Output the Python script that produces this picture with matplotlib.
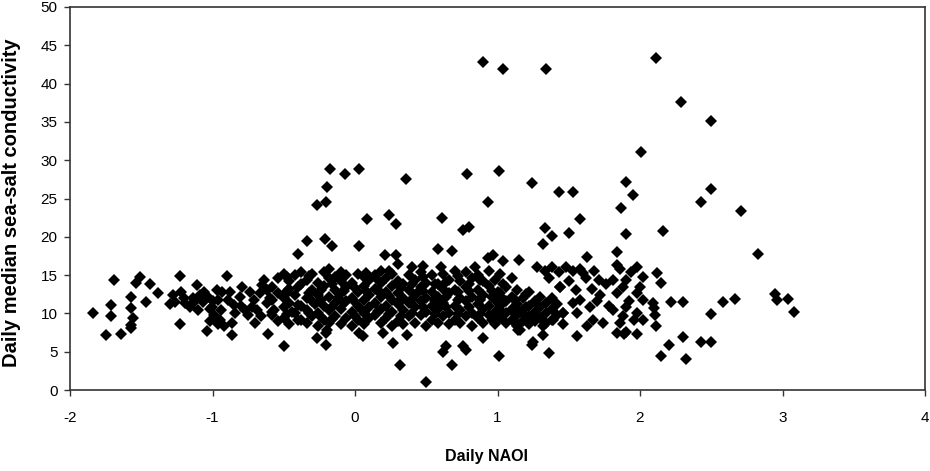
import matplotlib
matplotlib.use("Agg")
import matplotlib.pyplot as plt

# ---- data (Daily NAOI vs daily median sea-salt conductivity) ----
# sparse left part (NAOI < -0.55)
naoi_left = [-1.84, -1.75, -1.64, -1.71, -1.71, -1.69, -1.57, -1.57, -1.56, -1.57,
             -1.57, -1.54, -1.51, -1.47, -1.44, -1.38, -1.23, -1.23, -1.11, -1.04,
             -0.90, -0.865, -0.79, -0.61, -0.496, -1.275, -1.26, -1.19, -1.12, -1.09,
             -1.065, -1.10, -1.03, -1.006, -0.99, -0.97, -0.95, -0.92, -0.865, -0.89,
             -0.85, -0.81, -0.77, -0.75, -0.71, -0.69, -0.70, -0.67, -0.655, -0.62,
             -0.585, -0.57, -0.64, -1.30, -1.22, -1.16, -1.14, -1.02, -0.96, -0.93,
             -1.20, -1.14, -1.06, -1.00, -0.94, -0.88, -0.84, -0.80, -0.74, -0.72,
             -0.66, -0.62, -0.60, -1.02, -0.96]
cond_left = [10.1, 7.2, 7.3, 11.1, 9.6, 14.3, 12.2, 10.7, 9.4, 8.5,
             8.1, 14.0, 14.7, 11.5, 13.8, 12.6, 14.9, 8.6, 13.7, 7.7,
             14.9, 7.2, 13.4, 7.3, 5.8, 12.4, 11.5, 11.3, 11.7, 12.4,
             11.5, 10.4, 12.2, 10.9, 9.8, 13.1, 9.1, 8.3, 8.7, 11.7,
             11.1, 12.2, 10.4, 9.8, 11.7, 10.4, 8.7, 12.6, 13.7, 11.3,
             9.8, 10.4, 14.4, 11.2, 12.8, 10.9, 12.0, 10.6, 11.8, 12.8,
             12.0, 11.4, 12.8, 11.6, 10.4, 12.8, 10.0, 11.0, 12.8, 10.9,
             9.6, 13.0, 12.0, 9.0, 8.6]

# dense central band
naoi_core = [-0.58, -0.58, -0.58, -0.54, -0.54, -0.54, -0.50, -0.50, -0.50, -0.50,
             -0.46, -0.46, -0.46, -0.46, -0.42, -0.42, -0.42, -0.38, -0.38, -0.38,
             -0.38, -0.34, -0.34, -0.34, -0.34, -0.30, -0.30, -0.30, -0.30, -0.26,
             -0.26, -0.26, -0.26, -0.22, -0.22, -0.22, -0.22, -0.18, -0.18, -0.18,
             -0.18, -0.18, -0.14, -0.14, -0.14, -0.14, -0.10, -0.10, -0.10, -0.10,
             -0.10, -0.06, -0.06, -0.06, -0.06, -0.02, -0.02, -0.02, -0.02, 0.02,
             0.02, 0.02, 0.02, 0.06, 0.06, 0.06, 0.06, 0.06, 0.10, 0.10,
             0.10, 0.10, 0.14, 0.14, 0.14, 0.14, 0.18, 0.18, 0.18, 0.18,
             0.18, 0.22, 0.22, 0.22, 0.22, 0.26, 0.26, 0.26, 0.26, 0.26,
             0.30, 0.30, 0.30, 0.30, 0.34, 0.34, 0.34, 0.34, 0.38, 0.38,
             0.38, 0.38, 0.42, 0.42, 0.42, 0.42, 0.46, 0.46, 0.46, 0.46,
             0.50, 0.50, 0.50, 0.50, 0.54, 0.54, 0.54, 0.54, 0.58, 0.58,
             0.58, 0.58, 0.62, 0.62, 0.62, 0.62, 0.66, 0.66, 0.66, 0.66,
             0.70, 0.70, 0.70, 0.70, 0.74, 0.74, 0.74, 0.74, 0.78, 0.78,
             0.78, 0.78, 0.82, 0.82, 0.82, 0.82, 0.86, 0.86, 0.86, 0.86,
             0.90, 0.90, 0.90, 0.90, 0.94, 0.94, 0.94, 0.94, 0.98, 0.98,
             0.98, 0.98, 1.02, 1.02, 1.02, 1.02, 1.06, 1.06, 1.06, 1.06,
             1.10, 1.10, 1.10, 1.10, 1.14, 1.14, 1.14, 1.14, 1.18, 1.18,
             1.18, 1.22, 1.22, 1.22, 1.22, 1.26, 1.26, 1.26, 1.30, 1.30,
             1.30, 1.34, 1.34, 1.34, 1.38, 1.38, 1.38, 1.42, 1.42, 1.46,
             1.46, 1.28, 1.33, 1.38, 1.43, 1.48, 1.53, 1.58, 1.36, 1.50,
             1.44, 1.55, -0.48, -0.44, -0.28, -0.12, 0.04, 0.16, 0.32, 0.44,
             0.56, 0.72, 0.88, 1.00, 1.12, 0.40, 0.48, 0.60, 0.84]
cond_core = [10.2, 11.8, 13.5, 9.0, 12.6, 14.6, 10.8, 12.0, 15.2, 9.4,
             11.4, 13.2, 14.2, 8.6, 10.0, 12.4, 15.0, 9.2, 11.0, 13.8,
             15.4, 10.4, 12.0, 14.4, 8.8, 11.6, 13.0, 15.2, 9.6, 10.0,
             12.4, 14.0, 8.4, 11.0, 13.6, 15.4, 9.2, 10.4, 12.2, 14.6,
             8.8, 15.8, 9.6, 11.4, 13.0, 14.8, 10.6, 12.6, 14.2, 8.6,
             15.4, 9.4, 11.6, 13.4, 15.0, 10.2, 12.0, 14.0, 8.4, 11.0,
             12.8, 15.2, 9.2, 10.0, 11.8, 13.6, 14.8, 8.6, 10.8, 12.4,
             14.4, 9.4, 9.8, 11.4, 13.2, 15.0, 10.6, 12.2, 14.0, 8.8,
             15.6, 9.4, 11.0, 12.8, 14.6, 10.2, 11.8, 13.6, 15.2, 8.4,
             9.0, 11.2, 12.6, 14.2, 10.4, 12.0, 13.8, 8.6, 9.6, 11.4,
             13.0, 15.0, 10.8, 12.4, 14.4, 8.8, 9.8, 11.6, 13.4, 15.4,
             10.2, 12.0, 14.0, 8.4, 9.2, 11.0, 12.8, 15.0, 10.6, 12.2,
             13.8, 8.8, 9.6, 11.4, 13.2, 15.2, 10.0, 12.6, 14.4, 8.6,
             9.2, 11.0, 13.0, 15.6, 10.4, 12.0, 14.2, 8.8, 9.6, 11.6,
             13.4, 15.4, 10.0, 12.2, 14.6, 8.4, 9.4, 11.2, 13.0, 15.0,
             10.6, 12.4, 14.2, 8.8, 9.8, 11.0, 13.6, 15.6, 10.2, 11.8,
             14.4, 8.6, 9.4, 11.0, 12.6, 15.2, 10.0, 11.6, 13.4, 8.8,
             9.2, 10.6, 12.2, 14.6, 9.8, 11.2, 13.0, 8.4, 9.0, 10.4,
             12.0, 9.6, 11.0, 12.8, 8.6, 10.2, 11.6, 9.0, 9.4, 10.8,
             12.2, 10.0, 11.4, 8.8, 9.2, 10.6, 12.0, 9.8, 11.2, 10.0,
             8.6, 16.1, 15.6, 16.0, 15.4, 16.0, 15.6, 15.8, 14.6, 14.2,
             13.5, 13.0, 12.6, 10.2, 11.2, 12.0, 10.6, 13.0, 11.8, 12.8,
             11.6, 12.8, 11.8, 12.8, 10.8, 16.0, 16.2, 16.0, 16.1]

# extra points filling the densest part of the band
naoi_fill = [-0.48, -0.48, -0.48, -0.40, -0.40, -0.40, -0.32, -0.32, -0.32, -0.24,
             -0.24, -0.24, -0.16, -0.16, -0.16, -0.08, -0.08, -0.08, 0.00, 0.00,
             0.00, 0.08, 0.08, 0.08, 0.16, 0.16, 0.16, 0.24, 0.24, 0.24,
             0.32, 0.32, 0.32, 0.40, 0.40, 0.40, 0.48, 0.48, 0.48, 0.56,
             0.56, 0.56, 0.64, 0.64, 0.64, 0.72, 0.72, 0.72, 0.80, 0.80,
             0.80, 0.88, 0.88, 0.88, 0.96, 0.96, 0.96, 1.04, 1.04, 1.04,
             1.12, 1.12, 1.12, 1.20, 1.20, 1.20]
cond_fill = [9.9, 12.9, 14.7, 11.1, 13.5, 9.1, 10.1, 12.7, 14.9, 9.5,
             11.7, 13.1, 10.9, 13.9, 9.3, 11.3, 12.9, 14.9, 9.7, 11.5,
             13.3, 9.1, 12.9, 15.3, 10.3, 12.9, 14.3, 9.9, 12.3, 15.5,
             9.7, 11.9, 13.3, 10.1, 11.9, 13.9, 10.9, 12.9, 14.7, 9.9,
             11.9, 13.9, 10.9, 12.1, 14.1, 9.9, 11.7, 14.9, 10.9, 12.9,
             13.9, 9.9, 11.9, 14.3, 9.1, 12.9, 12.1, 10.1, 11.9, 13.9,
             9.9, 11.7, 8.9, 10.9, 12.5, 9.5]

# points to the right of the band (NAOI > 1.4) at ordinary levels
naoi_right = [1.44, 1.60, 1.71, 1.84, 1.98, 1.81, 1.90, 2.02, 2.12, 1.84,
              1.98, 2.02, 2.09, 1.90, 1.81, 1.98, 1.86, 2.02, 2.11, 1.90,
              1.58, 1.53, 1.65, 1.56, 1.67, 1.74, 1.63, 1.46, 1.39, 1.275,
              1.32, 1.16, 1.66, 1.72, 1.76, 1.70, 1.62, 1.78, 1.68, 1.88,
              1.94, 1.86, 1.92, 2.00, 1.96, 1.88, 2.145, 2.215, 2.30, 2.58,
              2.67, 2.50, 2.95, 2.96, 3.04, 3.08, 2.105, 2.10, 1.98, 1.89,
              1.84, 1.56, 1.32]
cond_right = [13.5, 15.3, 14.4, 16.3, 16.1, 14.4, 14.4, 14.8, 15.3, 12.6,
              12.6, 11.7, 11.3, 10.9, 10.4, 10.0, 8.7, 9.1, 8.3, 7.6,
              11.7, 11.3, 10.9, 10.0, 9.1, 8.7, 8.3, 10.0, 9.1, 9.6,
              8.3, 7.8, 13.2, 12.4, 13.8, 11.6, 14.6, 11.0, 15.6, 13.4,
              15.4, 15.8, 11.6, 13.4, 9.2, 9.6, 14.0, 11.5, 11.5, 11.5,
              11.9, 9.9, 12.5, 11.8, 11.9, 10.2, 9.8, 10.7, 7.3, 7.3,
              7.5, 7.0, 7.2]

# high outliers
naoi_high = [0.896, 1.04, 1.34, 2.11, 2.29, 2.50, 2.01, 1.90, 1.95, 2.50,
             1.43, 1.53, 2.43, -0.175, -0.194, -0.072, 0.026, 0.36, 0.786, 1.008,
             1.24, -0.265, -0.204, 0.93, 0.082, 0.236, 0.288, 0.608, 0.755, 0.80,
             1.33, 1.32, -0.339, -0.21, -0.16, 0.028, -0.40, 0.585, 0.68, 0.21,
             0.29, 0.30, 0.935, 0.966, 1.04, 1.15, 1.87, 2.71, 1.58, 1.38,
             1.50, 1.90, 2.16, 2.83, 1.63, 1.84]
cond_high = [42.8, 41.9, 41.9, 43.4, 37.6, 35.1, 31.1, 27.2, 25.5, 26.3,
             25.9, 25.8, 24.6, 28.9, 26.5, 28.2, 28.9, 27.6, 28.2, 28.6,
             27.0, 24.1, 24.6, 24.6, 22.3, 22.8, 21.7, 22.4, 20.9, 21.3,
             21.2, 19.1, 19.5, 19.7, 18.8, 18.8, 17.8, 18.4, 18.2, 17.6,
             17.6, 16.5, 17.2, 17.6, 16.8, 17.0, 23.8, 23.4, 22.3, 20.1,
             20.5, 20.4, 20.7, 17.8, 17.4, 18.0]

# low outliers
naoi_low = [-0.265, -0.204, -0.204, 0.03, 0.058, 0.194, 0.265, 0.363, 0.316, 0.496,
            0.62, 0.68, 0.777, 0.896, 1.01, 1.146, 1.244, 1.36, 0.64, 0.76,
            1.25, -0.20, 2.30, 2.20, 2.145, 2.32, 2.43, 2.50]
cond_low = [6.8, 7.4, 5.9, 7.4, 7.0, 7.4, 6.1, 7.2, 3.3, 1.1,
            5.0, 3.3, 5.2, 6.8, 4.5, 7.8, 5.9, 4.8, 5.7, 5.7,
            6.3, 7.8, 6.9, 5.9, 4.5, 4.0, 6.3, 6.3]

x_ticks = [-2, -1, 0, 1, 2, 3, 4]
y_ticks = [0, 5, 10, 15, 20, 25, 30, 35, 40, 45, 50]

plt.rcParams['font.family'] = ['Liberation Sans', 'DejaVu Sans']

fig = plt.figure(figsize=(9.3, 4.71), dpi=100)
ax = fig.add_axes([70 / 930, 1 - 390 / 471, 855 / 930, 383 / 471])

for xs, ys in [(naoi_left, cond_left), (naoi_core, cond_core), (naoi_fill, cond_fill),
               (naoi_right, cond_right), (naoi_high, cond_high), (naoi_low, cond_low)]:
    ax.plot(xs, ys, linestyle='none', marker='D', markersize=6.2,
            color='black', markeredgewidth=0, clip_on=False)

ax.set_xlim(-2, 4)
ax.set_ylim(0, 50)
ax.set_xticks(x_ticks)
ax.set_yticks(y_ticks)
ax.set_xticklabels([str(v) for v in x_ticks])
ax.set_yticklabels([str(v) for v in y_ticks])
ax.tick_params(axis='both', direction='out', length=4, width=1, color='#333333',
               labelsize=11, pad=5)
ax.tick_params(axis='x', pad=11)
for sp in ax.spines.values():
    sp.set_color('#333333')
    sp.set_linewidth(1.2)

ax.set_xlabel('Daily NAOI', fontsize=11.5, fontweight='bold')
ax.xaxis.set_label_coords(0.487, -0.155)
ax.set_ylabel('Daily median sea-salt conductivity', fontsize=14.5, fontweight='bold')
ax.yaxis.set_label_coords(-0.057, 0.49)

fig.savefig('out.png', dpi=100)
